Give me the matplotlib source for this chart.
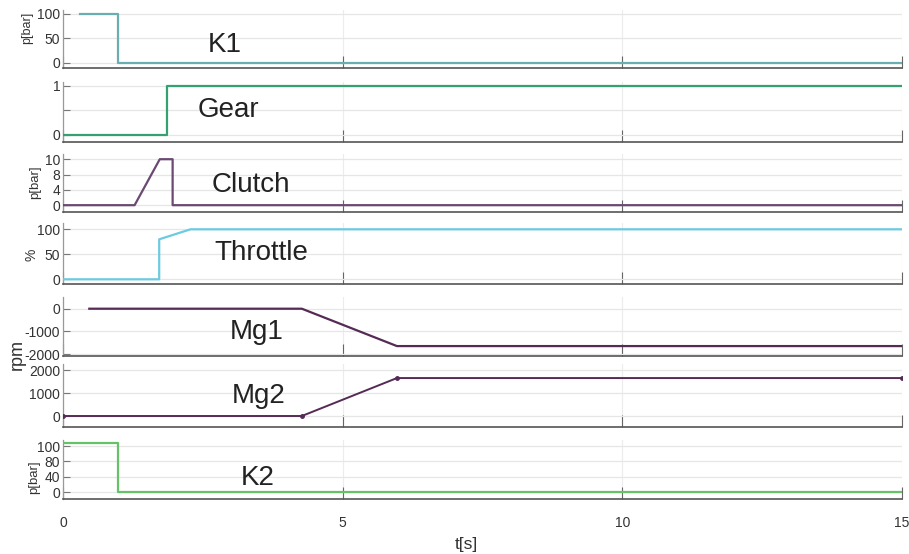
import matplotlib
matplotlib.use("Agg")
import matplotlib.pyplot as plt
import numpy as np

plt.rcParams['font.family'] = ['Liberation Sans', 'DejaVu Sans']

# ---- data (time in s) ----
k1_t = [0.3, 0.98, 0.98, 15]
k1_v = [100, 100, 0, 0]

gear_t = [0, 1.86, 1.86, 15]
gear_v = [0, 0, 1, 1]

clutch_t = [0, 1.28, 1.73, 1.96, 1.96, 15]
clutch_v = [0, 0, 10, 10, 0, 0]

throttle_t = [0, 1.72, 1.72, 2.28, 15]
throttle_v = [0, 0, 80, 100, 100]

mg1_t = [0.47, 4.27, 5.97, 15]
mg1_v = [0, 0, -1650, -1650]

mg2_t = [0, 4.27, 5.97, 15]
mg2_v = [0, 0, 1650, 1650]

k2_t = [0, 0.98, 0.98, 15]
k2_v = [104, 104, 0, 0]

x_ticks = [0, 5, 10, 15]


def piecewise_scale(knots):
    """Piecewise-linear axis scale: tick values `knots` are evenly spaced."""
    kv = np.asarray(knots, float)
    kp = np.arange(len(kv), dtype=float)

    def fwd(v):
        v = np.asarray(v, float)
        out = np.interp(v, kv, kp)
        lo = v < kv[0]
        hi = v > kv[-1]
        out = np.where(lo, (v - kv[0]) / (kv[1] - kv[0]), out)
        out = np.where(hi, kp[-1] + (v - kv[-1]) / (kv[-1] - kv[-2]), out)
        return out

    def inv(p):
        p = np.asarray(p, float)
        out = np.interp(p, kp, kv)
        lo = p < kp[0]
        hi = p > kp[-1]
        out = np.where(lo, kv[0] + p * (kv[1] - kv[0]), out)
        out = np.where(hi, kv[-1] + (p - kp[-1]) * (kv[-1] - kv[-2]), out)
        return out

    return fwd, inv


W, H = 909, 554
fig = plt.figure(figsize=(W / 100, H / 100), dpi=100)

x0, x1 = 63, 902

# (top px, bottom px, ylim, yticks, yticklabels, color, label, label xy, t, v, scale)
panels = [
    (10, 68, (-10.2, 108), [0, 50, 100], ['0', '50', '100'], '#6aaeb2', 'K1', (225, 45), k1_t, k1_v, None),
    (82, 142, (-0.143, 1.08), [0, 0.5, 1], ['0', '', '1'], '#35a070', 'Gear', (228, 110), gear_t, gear_v, None),
    (154, 212, (-1.78, 10.68), [0, 4, 8, 10], ['0', '4', '8', '10'], '#6a4a72', 'Clutch', (251, 185), clutch_t, clutch_v, [0, 4, 8, 10]),
    (223, 284, (-9.4, 112.6), [0, 50, 100], ['0', '50', '100'], '#6ccbe0', 'Throttle', (261, 253), throttle_t, throttle_v, None),
    (297, 356, (-2088, 517), [-2000, -1000, 0], ['-2000', '-1000', '0'], '#552a55', 'Mg1', (257, 332), mg1_t, mg1_v, None),
    (364, 427, (-478, 2261), [0, 1000, 2000], ['0', '1000', '2000'], '#552a55', 'Mg2', (259, 396), mg2_t, mg2_v, None),
    (440, 499, (-17.4, 107.8), [0, 40, 80, 100], ['0', '40', '80', '100'], '#66c266', 'K2', (258, 478), k2_t, k2_v, [0, 40, 80, 100]),
]

axes = []
for i, (top, bot, ylim, yt, ytl, col, lab, lxy, tt, vv, knots) in enumerate(panels):
    ax = fig.add_axes([x0 / W, 1 - bot / H, (x1 - x0) / W, (bot - top) / H])
    axes.append(ax)
    if knots is not None:
        ax.set_yscale('function', functions=piecewise_scale(knots))
    if lab == 'Mg2':
        ax.plot(tt, vv, color=col, lw=1.4, marker='o', ms=2.5, zorder=3)
    else:
        ax.plot(tt, vv, color=col, lw=1.6, zorder=3)
    ax.set_xlim(0, 15)
    ax.set_ylim(*ylim)
    ax.set_yticks(yt)
    ax.set_yticklabels(ytl)
    ax.yaxis.set_minor_locator(matplotlib.ticker.NullLocator())
    ax.set_xticks(x_ticks)
    ax.grid(True, axis='y', color='#e6e6e6', lw=0.9)
    ax.grid(True, axis='x', color='#ececec', lw=0.8)
    for s in ['top', 'right']:
        ax.spines[s].set_visible(False)
    ax.spines['bottom'].set_color('#555555')
    ax.spines['bottom'].set_linewidth(1.2)
    ax.spines['left'].set_color('#999999')
    ax.spines['left'].set_linewidth(0.9)
    ax.tick_params(axis='y', direction='in', length=5, color='#777777',
                   labelsize=10, labelcolor='#333333', pad=2)
    ax.tick_params(axis='x', direction='in', length=9, color='#666666',
                   labelsize=10, labelcolor='#333333', pad=12)
    if i < len(panels) - 1:
        ax.tick_params(axis='x', labelbottom=False)
    ax.set_facecolor('white')
    fig.text(lxy[0] / W, 1 - lxy[1] / H, lab, ha='center', va='center',
             fontsize=20, color='#222222')

# y labels
ylabs = [
    ('p[bar]', 27, 28, 9),
    ('p[bar]', 35, 182, 9.5),
    ('%', 31, 255, 10),
    ('rpm', 17, 354, 13),
    ('p[bar]', 34, 477, 9.5),
]
for txt, x, y, fs in ylabs:
    fig.text(x / W, 1 - y / H, txt, rotation=90, ha='center', va='center',
             fontsize=fs, color='#333333')

fig.text(466 / W, 1 - 544 / H, 't[s]', ha='center', va='center',
         fontsize=12.5, color='#333333')

fig.savefig('out.png', dpi=100, facecolor='white')
